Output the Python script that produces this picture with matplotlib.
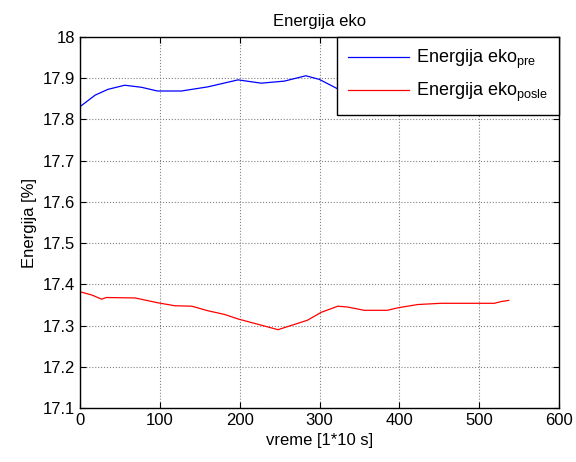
import numpy as np
import matplotlib
matplotlib.use('Agg')
import matplotlib.pyplot as plt

plt.rcParams['font.family'] = ['Liberation Sans', 'DejaVu Sans']
plt.rcParams['mathtext.fontset'] = 'custom'
plt.rcParams['mathtext.rm'] = 'Liberation Sans'
plt.rcParams['mathtext.it'] = 'Liberation Sans'

# energija eko pre (blue) - part behind legend is guessed
t_pre = [0, 19, 35, 56, 77, 97, 127, 160, 198, 227, 256, 283, 300, 327, 360, 420, 480, 540]
e_pre = [17.831, 17.859, 17.873, 17.883, 17.878, 17.869, 17.869, 17.879, 17.896, 17.888,
         17.893, 17.906, 17.897, 17.870, 17.855, 17.860, 17.865, 17.870]

# energija eko posle (red)
t_posle = [0, 15, 27, 33, 69, 98, 119, 140, 160, 181, 198, 223, 248, 269, 285, 302,
           323, 335, 356, 385, 398, 423, 452, 519, 527, 537]
e_posle = [17.382, 17.374, 17.364, 17.368, 17.367, 17.355, 17.348, 17.347, 17.336, 17.327,
           17.316, 17.303, 17.290, 17.303, 17.313, 17.332, 17.347, 17.345, 17.337, 17.337,
           17.343, 17.351, 17.354, 17.354, 17.358, 17.361]

fig = plt.figure(figsize=(5.76, 4.62), dpi=100)
ax = fig.add_axes([80/576., 1-408/462., 479/576., 371/462.])

ax.plot(t_pre, e_pre, color='b', lw=0.9, label='Energija eko$_{\\mathrm{pre}}$')
ax.plot(t_posle, e_posle, color='r', lw=0.9, label='Energija eko$_{\\mathrm{posle}}$')

ax.set_xlim(0, 600)
ax.set_ylim(17.1, 18)
ax.set_xticks(np.arange(0, 601, 100))
ax.set_yticks(np.arange(17.1, 18.01, 0.1))
ax.set_yticklabels(['17.1', '17.2', '17.3', '17.4', '17.5', '17.6', '17.7', '17.8', '17.9', '18'])
ax.grid(True, color='0.5', linestyle=':', linewidth=0.8)
ax.tick_params(direction='in', top=True, right=True, length=4, labelsize=12, width=0.8)
for s in ax.spines.values():
    s.set_linewidth(1.0)

ax.set_title('Energija eko', fontsize=12, pad=8)
ax.set_xlabel('vreme [1*10 s]', fontsize=12)
ax.set_ylabel('Energija [%]', fontsize=12)

leg = ax.legend(loc='upper right', fontsize=13, fancybox=False, framealpha=1,
                edgecolor='k', borderaxespad=0, handlelength=3.4, handletextpad=0.4,
                borderpad=0.6, labelspacing=0.55)
leg.get_frame().set_linewidth(1.0)

fig.savefig('out.png', dpi=100)
